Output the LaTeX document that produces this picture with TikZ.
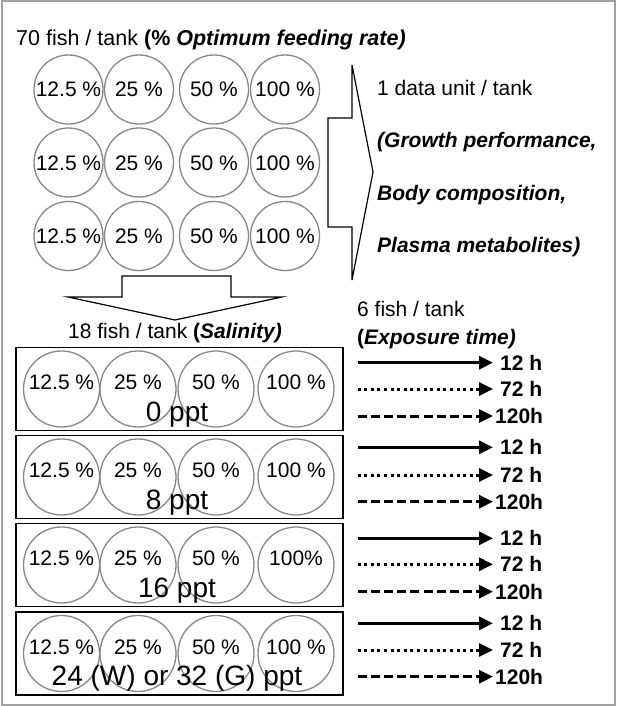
\documentclass[tikz,border=0pt]{standalone}
\usepackage{fontspec}
\setmainfont{Liberation Sans}
\usetikzlibrary{arrows.meta}
\definecolor{tankgray}{RGB}{135,135,135}
\definecolor{framegray}{RGB}{160,160,160}
\begin{document}
\begin{tikzpicture}[x=1pt,y=-1pt,
  txt/.style={font=\fontsize{21}{25}\selectfont, inner sep=0pt, text height=15pt, text depth=0pt},
  titletxt/.style={font=\fontsize{21.5}{26}\selectfont, inner sep=0pt, text height=15.4pt, text depth=0pt},
  bigtxt/.style={font=\fontsize{28}{32}\selectfont, inner sep=0pt, text height=20pt, text depth=0pt},
  tank/.style={draw=tankgray, line width=1.3pt, circle, inner sep=0pt, minimum size=69pt, txt},
  btank/.style={draw=tankgray, line width=1.3pt, circle, inner sep=0pt, minimum size=76pt},
  salbox/.style={draw=black, line width=1.8pt, rectangle, minimum width=327pt, minimum height=83pt, inner sep=0pt},
  bigarrow/.style={draw=black, line width=1.2pt, line join=miter},
  arrsolid/.style={line width=3pt, -{Triangle[length=14pt,width=13pt]}},
  arrdot/.style={line width=3pt, dash pattern=on 3pt off 3.6pt, -{Triangle[length=14pt,width=13pt]}},
  arrdash/.style={line width=3pt, dash pattern=on 9pt off 4.2pt, -{Triangle[length=14pt,width=13pt]}},
  htxt/.style={font=\fontsize{21}{25}\selectfont\bfseries, inner sep=0pt, text height=15pt, text depth=0pt, anchor=west}
]
\useasboundingbox (0,0) rectangle (616,706);
\draw[framegray, line width=2pt] (1.5,1.5) rectangle (614.5,704.5);

% title
\node[titletxt, anchor=west] (title) at (16,37.5) {70 fish / tank \textbf{(\% \textit{Optimum feeding rate)}}};

% top tanks
\foreach \r/\yy in {1/89.5,2/162.5,3/236}{
  \node[tank] (t\r-1) at (68.5,\yy) {12.5 \%};
  \node[tank] (t\r-2) at (139,\yy) {25 \%};
  \node[tank] (t\r-3) at (214,\yy) {50 \%};
  \node[tank] (t\r-4) at (285,\yy) {100 \%};
}

% big right arrow
\draw[bigarrow] (328,118) -- (352,118) -- (352,65) -- (373,172) -- (352,280) -- (352,227) -- (328,227) -- cycle;

\node[txt, anchor=west] (du) at (377,88) {1 data unit / tank};
\node[txt, anchor=west] (gp) at (377,140) {\textbf{\textit{(Growth performance,}}};
\node[txt, anchor=west] (bc) at (377,193) {\textbf{\textit{Body composition,}}};
\node[txt, anchor=west] (pm) at (377,245) {\textbf{\textit{Plasma metabolites)}}};

% down arrow
\draw[bigarrow] (122,276) -- (231,276) -- (231,297) -- (282,297) -- (175,320) -- (68,297) -- (122,297) -- cycle;

\node[txt, anchor=west] (sal) at (68,331) {18 fish / tank \textbf{(\textit{Salinity)}}};
\node[txt, anchor=west] (six) at (357,309) {6 fish / tank};
\node[txt, anchor=west] (expo) at (357,337) {\textbf{(\textit{Exposure time)}}};

% salinity boxes
\foreach \i/\cy/\ya/\yb/\yc/\ppt/\hund in {
  1/389/362.7/389/416/0 ppt/100 \%,
  2/477/447.3/475/501.7/8 ppt/100 \%,
  3/565/538.3/564.3/591.7/16 ppt/100\%,
  4/653.5/623.3/650/676.7/24 (W) or 32 (G) ppt/100 \%}{
  \node[salbox] (box\i) at (179.5,\cy) {};
  \node[btank] (c\i-1) at (61.5,\cy) {};
  \node[btank] (c\i-2) at (138,\cy) {};
  \node[btank] (c\i-3) at (216,\cy) {};
  \node[btank] (c\i-4) at (296,\cy) {};
  \node[txt] (l\i-1) at (61.5,\cy-7) {12.5 \%};
  \node[txt] (l\i-2) at (138,\cy-7) {25 \%};
  \node[txt] (l\i-3) at (216,\cy-7) {50 \%};
  \node[txt] (l\i-4) at (296,\cy-7) {\hund};
  \node[bigtxt] (p\i) at (177,\cy+22) {\ppt};
  % exposure arrows
  \coordinate (sa\i) at (357.5,\ya);
  \coordinate (sb\i) at (357.5,\yb);
  \coordinate (sc\i) at (357.5,\yc);
  \node[htxt] (ha\i) at (500,\ya) {12 h};
  \node[htxt] (hb\i) at (500,\yb) {72 h};
  \node[htxt] (hc\i) at (495,\yc) {120h};
  \draw[arrsolid] (sa\i) -- ([xshift=-7pt]ha\i.west);
  \draw[arrdot] (sb\i) -- ([xshift=-7pt]hb\i.west);
  \draw[arrdash] (sc\i) -- ([xshift=-2pt]hc\i.west);
}
\end{tikzpicture}
\end{document}
